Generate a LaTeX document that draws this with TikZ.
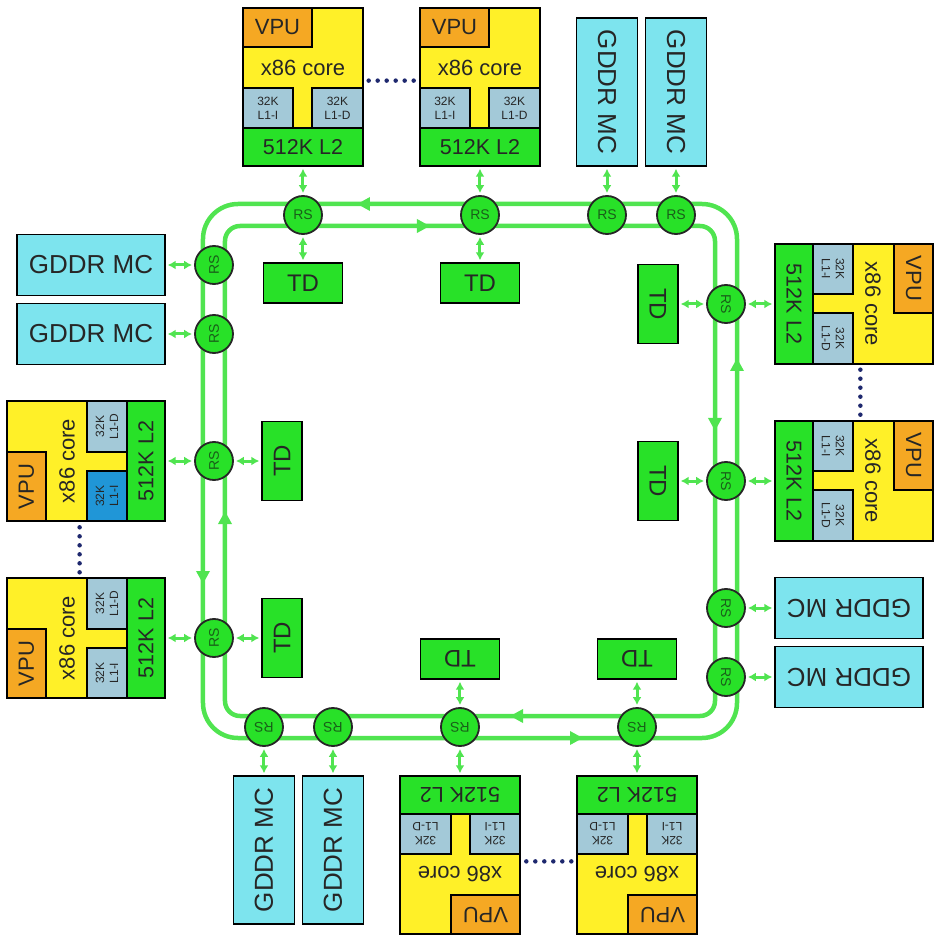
\documentclass[tikz,border=0pt]{standalone}
\usepackage{fontspec}
\setmainfont{Liberation Sans}
\usetikzlibrary{arrows.meta}
\definecolor{coreyellow}{RGB}{255,240,40}
\definecolor{vpuorange}{RGB}{245,168,35}
\definecolor{lonegray}{RGB}{163,201,216}
\definecolor{lonecyan}{RGB}{32,150,215}
\definecolor{ltwogreen}{RGB}{40,225,40}
\definecolor{mccyan}{RGB}{125,228,238}
\definecolor{lanegreen}{RGB}{80,228,80}
\definecolor{dotnavy}{RGB}{30,40,110}
\definecolor{rstext}{RGB}{25,95,25}

\tikzset{
  box/.style={draw=black, line width=1.4pt, inner sep=0pt, text=black!85},
  corebox/.style={box, fill=coreyellow, minimum width=120pt, minimum height=158pt},
  coretext/.style={inner sep=0pt, text=black!85, font=\fontsize{22}{24}\selectfont},
  vpubox/.style={box, fill=vpuorange, minimum width=69pt, minimum height=39pt, font=\fontsize{22}{24}\selectfont},
  lonebox/.style={box, minimum width=50pt, minimum height=40pt, align=center, font=\fontsize{12}{14}\selectfont},
  ltwobox/.style={box, fill=ltwogreen, minimum width=120pt, minimum height=38pt, font=\fontsize{21.5}{24}\selectfont},
  tdbox/.style={box, fill=ltwogreen, minimum width=79pt, minimum height=40pt, font=\fontsize{24}{26}\selectfont},
  mcbox/.style={box, fill=mccyan, minimum width=148pt, minimum height=61pt, rotate=-90, font=\fontsize{26}{28}\selectfont},
  rsnode/.style={circle, draw=black!85, line width=1.8pt, fill=ltwogreen, minimum size=38pt, inner sep=0pt, text=rstext, font=\fontsize{14}{16}\selectfont},
  lane/.style={draw=lanegreen, line width=4.5pt},
  lanetip/.style={lane, -{Triangle[length=13pt,width=13pt]}},
  link/.style={draw=lanegreen, line width=3pt, shorten <=2pt, shorten >=2pt,
    {Latex[length=8pt,width=9pt]}-{Latex[length=8pt,width=9pt]}},
  dotline/.style={draw=dotnavy, line width=4.5pt, line cap=round, dash pattern=on 0pt off 9pt}
}

\begin{document}
\begin{tikzpicture}[x=1pt, y=1pt]
\useasboundingbox (-470,-466) rectangle (466,471);
% ring
\draw[lane, rounded corners=35pt] (-267,-267) rectangle (267,267);
\draw[lane, rounded corners=15pt] (-245,-245) rectangle (245,245);
% one side of the ring, four times
\foreach \k/\ang/\hl in {t/0/lonegray, r/-90/lonegray, b/180/lonegray, l/90/lonecyan} {
\begin{scope}[rotate=\ang, transform shape]
  % cores
  \foreach \c/\cx/\lic in {a/-167/lonegray, b/10/\hl} {
    \begin{scope}[shift={(\cx,384)}]
      \node[corebox] (\k-core\c) at (0,0) {};
      \node[vpubox] (\k-vpu\c) at (-25.5,59.5) {VPU};
      \node[coretext] (\k-x\c) at (0,19) {x86 core};
      \node[lonebox, fill=\lic] (\k-li\c) at (-35,-21) {32K\\L1-I};
      \node[lonebox, fill=lonegray, minimum width=51pt] (\k-ld\c) at (34.5,-21) {32K\\L1-D};
      \node[ltwobox] (\k-ltwo\c) at (0,-60) {512K L2};
    \end{scope}
  }
  \draw[dotline, shorten <=5pt, shorten >=5pt] (\k-corea.6) -- (\k-coreb.174);
  % memory controllers
  \node[mcbox] (\k-mca) at (137,379) {GDDR MC};
  \node[mcbox] (\k-mcb) at (206,379) {GDDR MC};
  % lane directions
  \draw[lanetip] (-98,267) -- (-113,267);
  \draw[lanetip] (-55,245) -- (-40,245);
  % ring stops
  \foreach \r/\rx in {a/-167, b/10, c/137, d/206}
    \node[rsnode] (\k-rs\r) at (\rx,256) {RS};
  % tag directories
  \node[tdbox] (\k-tda) at (-167,188) {TD};
  \node[tdbox] (\k-tdb) at (10,188) {TD};
  \draw[link] (\k-ltwoa) -- (\k-rsa);
  \draw[link] (\k-ltwob) -- (\k-rsb);
  \draw[link] (\k-rsa) -- (\k-tda);
  \draw[link] (\k-rsb) -- (\k-tdb);
  \draw[link] (\k-mca) -- (\k-rsc);
  \draw[link] (\k-mcb) -- (\k-rsd);
\end{scope}
}
\end{tikzpicture}
\end{document}
